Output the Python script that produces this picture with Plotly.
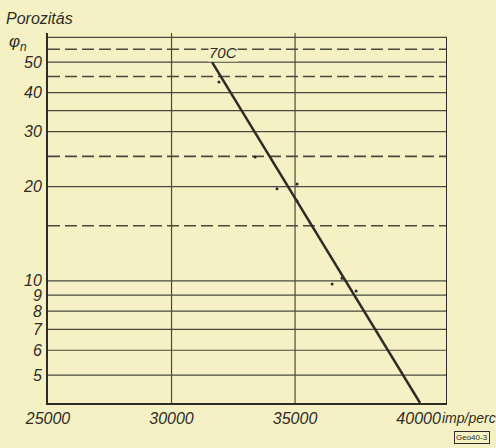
import numpy as np
import plotly.graph_objects as go

# ---- data ----
x_ticks = [25000, 30000, 35000, 40000]
x_tick_labels = ["25000", "30000", "35000", "40000"]
y_ticks = [5, 6, 7, 8, 9, 10, 20, 30, 40, 50]
y_tick_labels = ["5", "6", "7", "8", "9", "10", "20", "30", "40", "50"]
solid_grid_y = [5, 6, 7, 8, 9, 10, 20, 30, 35, 40, 50, 60]
dashed_grid_y = [15, 25, 45, 55]
vertical_grid_x = [30000, 35000]

meas_x = [31920, 33380, 34270, 35080, 35080, 36500, 36900, 37470]
meas_y = [43.2, 24.9, 19.7, 20.4, 18.0, 9.78, 10.2, 9.29]

fit_x = [31640, 40060]
fit_y = [50, 4.07]

X_MIN, X_MAX = 25000, 41150
Y_MIN, Y_MAX = 4.07, 62

BG = "#f6f1c5"
INK = "#2e2c26"
GRID = "#4a4840"

fig = go.Figure()

def hlines(vals):
    xs, ys = [], []
    for v in vals:
        xs += [X_MIN, X_MAX, None]
        ys += [v, v, None]
    return xs, ys

sx, sy = hlines(solid_grid_y)
fig.add_trace(go.Scatter(x=sx, y=sy, mode="lines",
                         line=dict(color=GRID, width=1.2), hoverinfo="skip", showlegend=False))
dx, dy = hlines(dashed_grid_y)
fig.add_trace(go.Scatter(x=dx, y=dy, mode="lines",
                         line=dict(color=GRID, width=1.6, dash="12px,5px"), hoverinfo="skip", showlegend=False))
vx, vy = [], []
for v in vertical_grid_x:
    vx += [v, v, None]
    vy += [Y_MIN, Y_MAX, None]
fig.add_trace(go.Scatter(x=vx, y=vy, mode="lines",
                         line=dict(color=GRID, width=1.2), hoverinfo="skip", showlegend=False))
# right frame
fig.add_trace(go.Scatter(x=[X_MAX, X_MAX], y=[Y_MIN, 60], mode="lines",
                         line=dict(color=INK, width=2), hoverinfo="skip", showlegend=False))

# fitted line
fig.add_trace(go.Scatter(x=fit_x, y=fit_y, mode="lines",
                         line=dict(color=INK, width=2.5), showlegend=False))
# measurements
fig.add_trace(go.Scatter(x=meas_x, y=meas_y, mode="markers",
                         marker=dict(color=INK, size=3), showlegend=False))

FONT = "Liberation Sans"

fig.update_layout(
    width=496, height=448,
    margin=dict(l=48, r=49, t=33, b=45),
    paper_bgcolor=BG, plot_bgcolor=BG,
    showlegend=False,
    xaxis=dict(range=[X_MIN, X_MAX], tickvals=x_ticks, ticktext=x_tick_labels,
               showgrid=False, zeroline=False, showline=True, linecolor=INK, linewidth=2,
               ticks="", 
               tickfont=dict(family=FONT, size=16, color=INK, style="italic")),
    yaxis=dict(type="log", range=[np.log10(Y_MIN), np.log10(Y_MAX)],
               tickvals=y_ticks, ticktext=y_tick_labels,
               showgrid=False, zeroline=False, showline=True, linecolor=INK, linewidth=2,
               ticks="outside", ticklen=1, tickcolor=BG,
               tickfont=dict(family=FONT, size=16, color=INK, style="italic")),
)

fig.add_annotation(x=32085, y=np.log10(53.9), xref="x", yref="y", text="70C",
                   showarrow=False, bgcolor=BG, borderpad=0,
                   font=dict(family=FONT, size=15, color=INK, style="italic"))
fig.add_annotation(x=440, y=418, xref="paper", yref="paper", text="imp/perc",
                   showarrow=False, xanchor="left", yanchor="middle",
                   font=dict(family=FONT, size=14, color=INK, style="italic"))
fig.add_annotation(x=4, y=19, xref="paper", yref="paper", text="Porozitás",
                   showarrow=False, xanchor="left", yanchor="middle",
                   font=dict(family=FONT, size=16, color=INK, style="italic"))
fig.add_annotation(x=7, y=43, xref="paper", yref="paper", text="φ<sub>n</sub>",
                   showarrow=False, xanchor="left", yanchor="middle",
                   font=dict(family=FONT, size=17, color=INK, style="italic"))
fig.add_annotation(x=472, y=438, xref="paper", yref="paper", text="Geo40-3",
                   showarrow=False, xanchor="center", yanchor="middle",
                   bordercolor=INK, borderwidth=1, borderpad=1,
                   font=dict(family=FONT, size=8, color=INK))

# convert pixel-placed paper annotations to paper fractions
pw, ph = 496 - 48 - 49, 448 - 33 - 45
for a in fig.layout.annotations:
    if a.xref == "paper":
        a.x = (a.x - 48) / pw
        a.y = 1 - (a.y - 33) / ph

fig.write_html("out.html", config={"displayModeBar": False},
               post_script="document.body.style.margin='0';document.body.style.background='%s';" % BG)
